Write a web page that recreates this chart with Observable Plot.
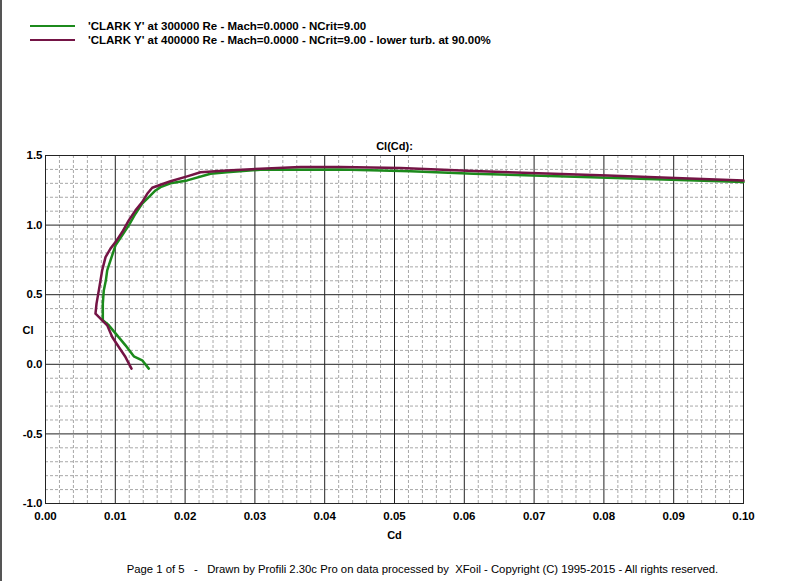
<!DOCTYPE html>
<html>
<head>
<meta charset="utf-8">
<script src="https://cdn.jsdelivr.net/npm/d3@7"></script>
<script src="https://cdn.jsdelivr.net/npm/@observablehq/plot@0.6"></script>
<style>
  html, body { margin: 0; padding: 0; background: #fff; }
  body { width: 800px; height: 581px; position: relative; overflow: hidden; font-family: "Liberation Sans", Arial, sans-serif; }
  #edge { position: absolute; left: 0; top: 0; width: 2px; height: 581px; background: #555; }
  #legend { position: absolute; left: 30px; top: 19px; font-size: 11.5px; font-weight: bold; color: #000; }
  .lg { display: flex; align-items: center; height: 14px; white-space: pre; }
  .sw { width: 45px; height: 2.5px; margin-right: 13px; }
  #chart { position: absolute; left: 0; top: 120px; }
  #footer { position: absolute; left: 0; top: 563px; width: 845px; text-align: center; font-size: 11.3px; color: #000; white-space: pre; }
</style>
</head>
<body>
<div id="edge"></div>
<div id="legend"></div>
<div id="chart"></div>
<div id="footer"></div>
<script>
// ---- data ----
const seriesNames = [
  "'CLARK Y' at 300000 Re - Mach=0.0000 - NCrit=9.00",
  "'CLARK Y' at 400000 Re - Mach=0.0000 - NCrit=9.00 - lower turb. at 90.00%"
];
const seriesColors = ["#1c8a1c", "#741445"];

const cd300 = [0.01480, 0.01385, 0.01265, 0.01146, 0.01027, 0.00907, 0.00821, 0.00821, 0.00835, 0.00865, 0.00884, 0.00931, 0.01003, 0.01099, 0.01193, 0.01289, 0.01385, 0.01480, 0.01576, 0.01648, 0.01791, 0.02030, 0.02364, 0.02600, 0.03080, 0.04226, 0.05230, 0.06132, 0.08052, 0.10000];
const cl300 = [-0.031, 0.029, 0.057, 0.136, 0.208, 0.280, 0.316, 0.436, 0.531, 0.603, 0.675, 0.747, 0.854, 0.926, 0.998, 1.082, 1.154, 1.201, 1.249, 1.273, 1.300, 1.321, 1.369, 1.380, 1.398, 1.400, 1.386, 1.369, 1.340, 1.310];

const cd400 = [0.01232, 0.01146, 0.01050, 0.00956, 0.00884, 0.00788, 0.00716, 0.00731, 0.00764, 0.00788, 0.00812, 0.00860, 0.00931, 0.01003, 0.01099, 0.01193, 0.01289, 0.01385, 0.01457, 0.01529, 0.01648, 0.01791, 0.02030, 0.02221, 0.02600, 0.03080, 0.03653, 0.04226, 0.05086, 0.06132, 0.08052, 0.10000];
const cl400 = [-0.031, 0.052, 0.124, 0.196, 0.280, 0.328, 0.364, 0.436, 0.531, 0.603, 0.675, 0.770, 0.831, 0.878, 0.950, 1.034, 1.106, 1.165, 1.225, 1.268, 1.290, 1.315, 1.350, 1.380, 1.393, 1.405, 1.417, 1.417, 1.411, 1.388, 1.357, 1.321];

const xTicks = [0, 0.01, 0.02, 0.03, 0.04, 0.05, 0.06, 0.07, 0.08, 0.09, 0.10];
const yTicks = [-1.0, -0.5, 0.0, 0.5, 1.0, 1.5];
const xMinor = d3.range(0, 51).filter(i => i % 5 !== 0).map(i => i * 0.002);
const yMinor = d3.range(0, 26).filter(i => i % 5 !== 0).map(i => -1 + i * 0.1);

const chartTitle = "Cl(Cd):";
const xLabel = "Cd";
const yLabel = "Cl";
const footerText = "Page 1 of 5   -   Drawn by Profili 2.30c Pro on data processed by  XFoil - Copyright (C) 1995-2015 - All rights reserved.";

// ---- build ----
const rows300 = cd300.map((cd, i) => ({cd, cl: cl300[i]}));
const rows400 = cd400.map((cd, i) => ({cd, cl: cl400[i]}));

const legend = document.getElementById("legend");
seriesNames.forEach((name, i) => {
  const row = document.createElement("div");
  row.className = "lg";
  const sw = document.createElement("span");
  sw.className = "sw";
  sw.style.background = seriesColors[i];
  const t = document.createElement("span");
  t.textContent = name;
  row.appendChild(sw); row.appendChild(t);
  legend.appendChild(row);
});
document.getElementById("footer").textContent = footerText;

const chart = Plot.plot({
  width: 800,
  height: 428,
  marginLeft: 45,
  marginRight: 57,
  marginTop: 35,
  marginBottom: 45,
  x: {domain: [0, 0.1]},
  y: {domain: [-1, 1.5]},
  style: {fontFamily: "'Liberation Sans', Arial, sans-serif", fontSize: "11.5px", fontWeight: "bold", color: "#000", background: "transparent", overflow: "visible"},
  marks: [
    Plot.gridX(xMinor, {stroke: "#a8a8a8", strokeOpacity: 1, strokeDasharray: "3,2"}),
    Plot.gridY(yMinor, {stroke: "#a8a8a8", strokeOpacity: 1, strokeDasharray: "3,2"}),
    Plot.gridX(xTicks, {stroke: "#222", strokeOpacity: 1}),
    Plot.gridY(yTicks, {stroke: "#222", strokeOpacity: 1}),
    Plot.frame({stroke: "#222"}),
    Plot.axisX(xTicks, {tickSize: 0, tickPadding: 8, tickFormat: d => d.toFixed(2), label: null}),
    Plot.axisY(yTicks, {tickSize: 0, tickPadding: 3, tickFormat: d => d.toFixed(1), label: null}),
    Plot.line(rows300, {x: "cd", y: "cl", stroke: seriesColors[0], strokeWidth: 2.5, curve: "linear"}),
    Plot.line(rows400, {x: "cd", y: "cl", stroke: seriesColors[1], strokeWidth: 2.5, curve: "linear"}),
    Plot.text([chartTitle], {frameAnchor: "top", dy: -13, text: d => d, fontWeight: "bold", fontSize: 11}),
    Plot.text([xLabel], {frameAnchor: "bottom", dy: 35, text: d => d, fontWeight: "bold", fontSize: 11}),
    Plot.text([yLabel], {frameAnchor: "left", dx: -23, dy: 1, text: d => d, fontWeight: "bold", fontSize: 11})
  ]
});
document.getElementById("chart").appendChild(chart);
</script>
</body>
</html>
